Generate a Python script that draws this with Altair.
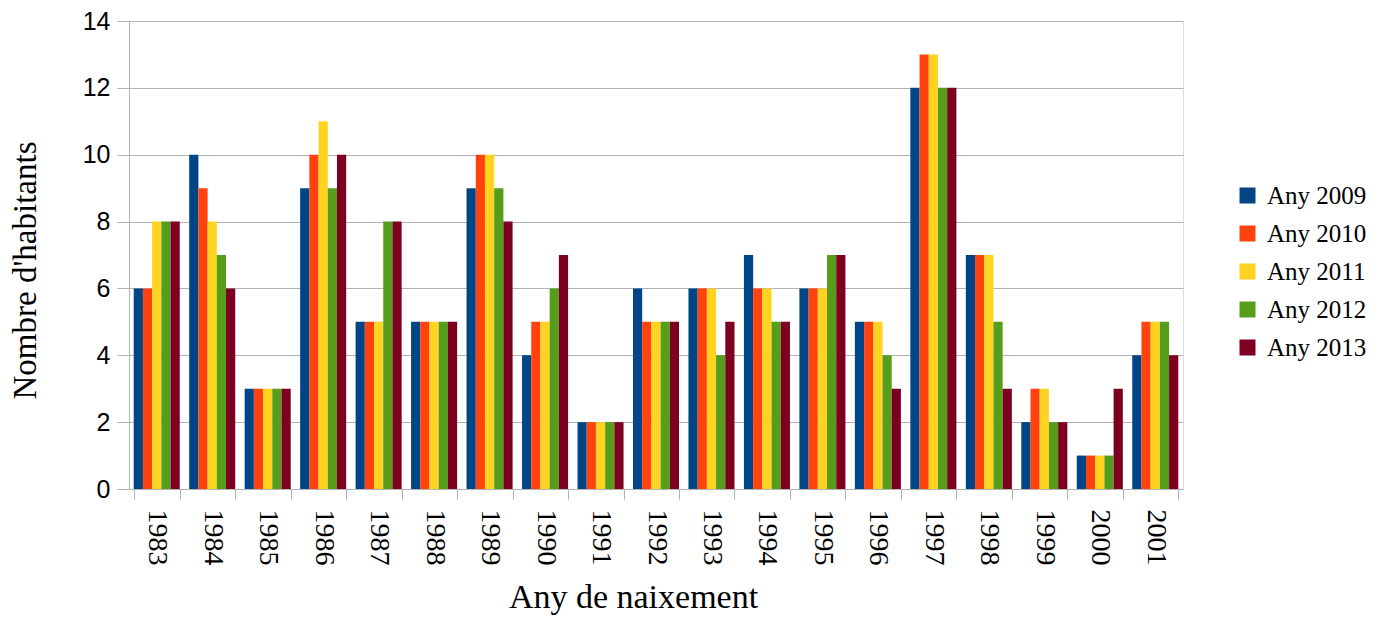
import altair as alt
import pandas as pd

years = ["1983", "1984", "1985", "1986", "1987", "1988", "1989", "1990", "1991", "1992",
         "1993", "1994", "1995", "1996", "1997", "1998", "1999", "2000", "2001"]
series_names = ["Any 2009", "Any 2010", "Any 2011", "Any 2012", "Any 2013"]
any2009 = [6, 10, 3, 9, 5, 5, 9, 4, 2, 6, 6, 7, 6, 5, 12, 7, 2, 1, 4]
any2010 = [6, 9, 3, 10, 5, 5, 10, 5, 2, 5, 6, 6, 6, 5, 13, 7, 3, 1, 5]
any2011 = [8, 8, 3, 11, 5, 5, 10, 5, 2, 5, 6, 6, 6, 5, 13, 7, 3, 1, 5]
any2012 = [8, 7, 3, 9, 8, 5, 9, 6, 2, 5, 4, 5, 7, 4, 12, 5, 2, 1, 5]
any2013 = [8, 6, 3, 10, 8, 5, 8, 7, 2, 5, 5, 5, 7, 3, 12, 3, 2, 3, 4]
colors = ["#004586", "#ff420e", "#ffd320", "#579d1c", "#7e0021"]

values = [any2009, any2010, any2011, any2012, any2013]
rows = []
for s, vals in zip(series_names, values):
    for y, v in zip(years, vals):
        rows.append({"year": y, "serie": s, "value": v})
df = pd.DataFrame(rows)

serif = "Liberation Serif"
sans = "Liberation Sans"
grid = "#b3b3b3"

chart = alt.Chart(df).mark_bar().encode(
    x=alt.X("year:N", sort=years,
            scale=alt.Scale(paddingInner=0.17, paddingOuter=0.085),
            axis=alt.Axis(title="Any de naixement", labelAngle=90, labelFont=serif,
                          labelFontSize=28, labelColor="#000000", labelPadding=10,
                          tickBand="extent", tickSize=10, tickColor=grid,
                          domainColor=grid, grid=False,
                          titleFont=serif, titleFontSize=34, titleFontWeight="normal",
                          titleColor="#000000", titleX=504, titleY=118,
                          titleAlign="center", titleBaseline="alphabetic")),
    xOffset=alt.XOffset("serie:N", sort=series_names,
                        scale=alt.Scale(paddingInner=0, paddingOuter=0)),
    y=alt.Y("value:Q", scale=alt.Scale(domain=[0, 14], nice=False),
            axis=alt.Axis(title="Nombre d'habitants", values=[0, 2, 4, 6, 8, 10, 12, 14],
                          labelFont=sans, labelFontSize=25, labelColor="#000000",
                          labelPadding=7, tickSize=12, tickColor=grid,
                          domainColor=grid, gridColor=grid,
                          titleFont=serif, titleFontSize=33, titleFontWeight="normal",
                          titleColor="#000000", titleX=-104, titleY=249,
                          titleAngle=270, titleAlign="center", titleBaseline="middle")),
    color=alt.Color("serie:N", sort=series_names,
                    scale=alt.Scale(domain=series_names, range=colors),
                    legend=alt.Legend(title=None, orient="none", legendX=1106, legendY=162,
                                      symbolType="square",
                                      symbolSize=256, symbolStrokeWidth=0,
                                      labelFont=serif, labelFontSize=25,
                                      labelColor="#000000", labelOffset=7,
                                      rowPadding=12, padding=0)),
).properties(
    width=1054, height=468,
    autosize=alt.AutoSizeParams(type="none"),
    padding={"left": 121, "top": 13, "right": 190, "bottom": 126},
).configure_view(
    stroke=grid, strokeWidth=1
).configure(background="white")

chart.save("out.html", embed_options={"renderer": "svg", "actions": False})
